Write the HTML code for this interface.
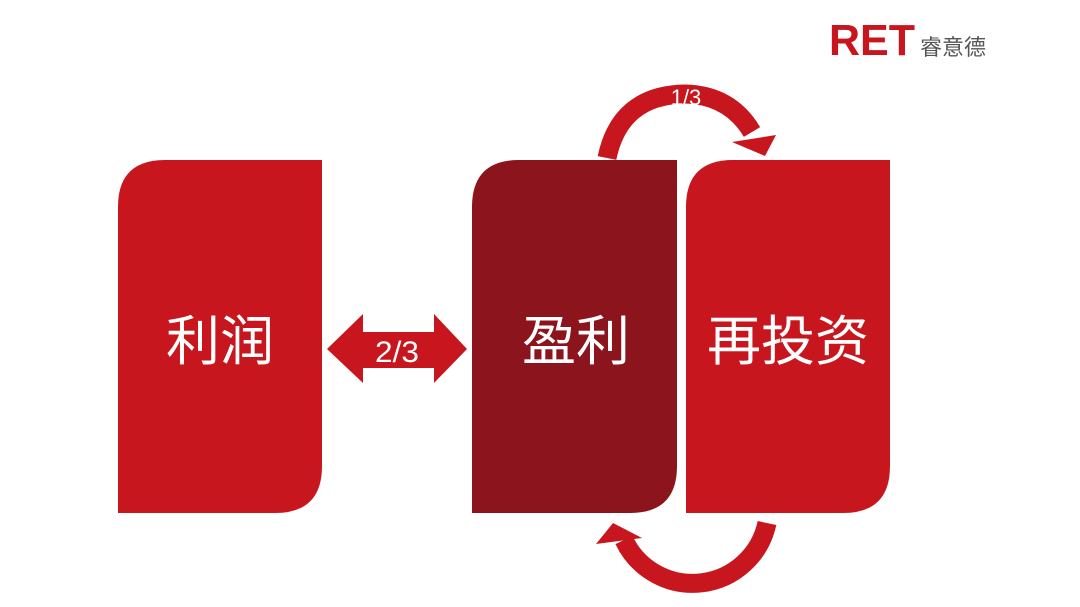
<!DOCTYPE html>
<html><head><meta charset="utf-8"><style>
body{margin:0;width:1080px;height:607px;background:#fff;overflow:hidden;font-family:"Liberation Sans","Noto Sans CJK SC",sans-serif}
svg{position:absolute;left:0;top:0}
</style></head><body>
<svg width="1080" height="607" viewBox="0 0 1080 607">
<path d="M165 160 H322 V466 Q322 513 275 513 H118 V207 Q118 160 165 160Z" fill="#c8161e"/>
<path d="M519 160 H677 V466 Q677 513 630 513 H472 V207 Q472 160 519 160Z" fill="#8b141d"/>
<path d="M733 160 H890 V466 Q890 513 843 513 H686 V207 Q686 160 733 160Z" fill="#c8161e"/>
<polygon points="327,349 363,314 363,332 434,332 434,314 467,349 434,383 434,368 363,368 363,383" fill="#c8161e"/>
<text x="397" y="362" font-size="30" fill="#fff" text-anchor="middle" font-family="Liberation Sans, sans-serif" textLength="44" lengthAdjust="spacingAndGlyphs">2/3</text>
<path d="M607 158 Q620 95 685 94 Q730 95 752 132" fill="none" stroke="#c8161e" stroke-width="19"/>
<polygon points="732,142 776,135 765,156" fill="#c8161e"/>
<text x="686" y="105" font-size="22" fill="#fff" text-anchor="middle" font-family="Liberation Sans, sans-serif">1/3</text>
<path d="M767 523 A76 76 0 0 1 624 540" fill="none" stroke="#c8161e" stroke-width="19"/>
<polygon points="613,523 596,544 642,538" fill="#c8161e"/>
<text x="220" y="360" font-size="54" fill="#fff" text-anchor="middle">利润</text>
<text x="576" y="360" font-size="54" fill="#fff" text-anchor="middle">盈利</text>
<text x="788" y="360" font-size="54" fill="#fff" text-anchor="middle">再投资</text>
<text x="829" y="55" font-size="44" font-weight="bold" fill="#c8161e" font-family="Liberation Sans, sans-serif" textLength="86" lengthAdjust="spacingAndGlyphs">RET</text>
<text x="920" y="55" font-size="22" fill="#555">睿意德</text>
</svg>
</body></html>
